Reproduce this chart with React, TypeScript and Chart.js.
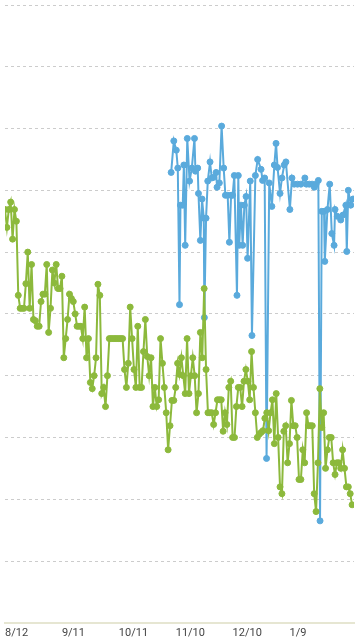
import React, { useEffect, useRef } from "react";
import { Chart, registerables } from "chart.js";

Chart.register(...registerables);

// Day 0 = 8/12; one value per day for the green series
const greenValues = [
  66.9, 64.0, 66.9, 68.1, 62.1, 66.9, 65.0, 53.0, 50.9, 50.9,
  50.9, 54.9, 60.0, 50.9, 58.0, 49.1, 48.9, 48.0, 48.0, 52.0,
  53.2, 53.2, 58.0, 47.0, 50.9, 57.1, 55.0, 58.0, 54.1, 54.1,
  56.1, 42.9, 46.0, 49.1, 53.2, 52.5, 52.0, 50.0, 48.0, 48.0,
  48.0, 46.0, 51.1, 42.9, 46.0, 38.9, 37.9, 40.0, 42.9, 54.8,
  53.0, 37.1, 38.1, 35.0, 40.0, 46.0, 46.0, 46.0, 46.0, 46.0,
  46.0, 46.0, 46.0, 41.0, 38.1, 42.0, 51.1, 46.0, 41.0, 38.1,
  48.0, 38.1, 38.1, 43.9, 49.1, 43.1, 40.0, 42.9, 35.0, 38.1,
  35.0, 36.1, 46.0, 42.0, 38.1, 34.0, 28.0, 31.9, 36.0, 36.0,
  38.1, 42.0, 40.2, 42.9, 40.0, 37.1, 46.0, 37.1, 40.0, 42.9,
  40.0, 34.0, 37.1, 47.0, 42.9, 54.1, 41.0, 34.0, 34.0, 34.0,
  32.1, 34.0, 36.1, 36.1, 36.1, 31.0, 34.0, 32.1, 38.1, 39.1,
  30.0, 30.0, 35.0, 38.1, 38.1, 35.0, 39.1, 41.0, 39.1, 36.1,
  43.9, 38.1, 34.0, 30.0, 30.5, 30.8, 31.1, 33.1, 34.0, 31.1,
  34.0, 36.1, 29.0, 37.1, 30.0, 22.0, 20.9, 31.0, 31.9, 25.9,
  29.0, 36.0, 31.9, 31.9, 30.0, 23.2, 23.2, 28.0, 25.9, 34.0,
  31.9, 31.9, 31.9, 20.9, 18.0, 25.9, 37.9, 31.6, 34.0, 25.0,
  28.0, 30.0, 30.0, 25.9, 24.0, 25.9, 25.9, 25.0, 28.0, 25.0,
  22.0, 22.0, 20.9, 19.1,
];

// Blue series: day offsets (from 8/12) and values
const blueDays = [
  87.6, 89.0, 90.3, 91.1, 92.0, 92.5, 93.7, 94.3, 95.0, 96.1,
  97.3, 98.5, 99.9, 100.4, 101.6, 102.0, 103.0, 103.9, 104.8, 105.1,
  106.0, 106.9, 108.1, 109.0, 110.0, 111.3, 111.8, 113.0, 114.2, 115.3,
  116.2, 117.4, 118.3, 119.2, 120.0, 120.9, 122.3, 123.0, 123.5, 124.4,
  125.3, 126.2, 127.1, 127.9, 129.3, 130.2, 132.0, 133.2, 135.0, 135.8,
  136.9, 137.9, 139.3, 140.7, 142.0, 142.9, 143.7, 145.0, 146.0, 147.2,
  148.1, 150.2, 151.3, 152.5, 154.2, 156.0, 158.1, 158.9, 160.4, 161.9,
  163.1, 164.0, 165.2, 166.1, 167.0, 168.2, 168.6, 170.0, 171.2, 172.3,
  173.5, 174.0, 175.2, 177.0, 178.2, 179.7, 180.2, 181.0, 182.3, 183.5,
];
const blueValues = [
  72.9, 78.0, 76.5, 73.6, 51.5, 67.6, 67.6, 74.1, 61.1, 78.4,
  71.5, 73.6, 78.4, 73.1, 73.6, 69.5, 61.9, 68.6, 65.5, 49.4,
  65.5, 71.5, 74.6, 72.0, 72.1, 72.9, 70.5, 71.2, 80.4, 73.6,
  69.2, 69.2, 61.6, 69.2, 69.2, 72.4, 53.0, 72.4, 61.1, 67.6,
  61.1, 67.6, 69.0, 59.0, 71.5, 46.5, 72.4, 75.0, 73.4, 71.6,
  72.0, 26.6, 71.2, 67.4, 74.1, 77.6, 73.7, 69.5, 72.0, 74.1,
  74.6, 66.9, 72.0, 71.0, 71.0, 71.0, 72.0, 71.0, 71.0, 71.0,
  70.5, 71.0, 71.6, 16.5, 66.6, 66.6, 58.5, 66.9, 71.0, 63.0,
  61.1, 66.9, 65.8, 65.2, 66.0, 67.6, 60.1, 70.0, 67.6, 68.6,
];

const tickDays = [0, 30, 60, 90, 120, 150];
const tickLabels = ["8/12", "9/11", "10/11", "11/10", "12/10", "1/9"];

const GREEN = "#8cb93c";
const BLUE = "#5aaadc";

export default function App() {
  const ref = useRef<HTMLCanvasElement | null>(null);

  useEffect(() => {
    document.body.style.margin = "0";
    if (!ref.current) return;
    const greenData = greenValues.map((v, i) => ({ x: i, y: v }));
    const blueData = blueDays.map((d, i) => ({ x: d, y: blueValues[i] }));
    const chart = new Chart(ref.current, {
      type: "line",
      data: {
        datasets: [
          {
            data: greenData,
            borderColor: GREEN,
            backgroundColor: GREEN,
            pointBackgroundColor: GREEN,
            pointBorderColor: GREEN,
            borderWidth: 2,
            pointRadius: 3,
            pointBorderWidth: 1,
            tension: 0,
            fill: false,
          },
          {
            data: blueData,
            borderColor: BLUE,
            backgroundColor: BLUE,
            pointBackgroundColor: BLUE,
            pointBorderColor: BLUE,
            borderWidth: 2,
            pointRadius: 3,
            pointBorderWidth: 1,
            tension: 0,
            fill: false,
          },
        ],
      },
      options: {
        animation: false,
        responsive: false,
        layout: { padding: { left: 5, right: 4, top: 5, bottom: -4 } },
        plugins: { legend: { display: false }, tooltip: { enabled: false } },
        scales: {
          x: {
            type: "linear",
            min: 0,
            max: 184,
            afterBuildTicks: (scale: any) => {
              scale.ticks = tickDays.map((v) => ({ value: v }));
            },
            ticks: {
              align: "start",
              maxRotation: 0,
              autoSkip: false,
              padding: 4,
              color: "#444",
              font: { family: "Roboto", size: 11 },
              callback: (value: any) => {
                const i = tickDays.indexOf(Number(value));
                return i >= 0 ? tickLabels[i] : "";
              },
            },
            grid: { display: false, drawTicks: false },
            border: { display: true, color: "#e6e6d2", width: 2 },
          },
          y: {
            min: 0,
            max: 100,
            ticks: { display: false, stepSize: 10 },
            grid: { color: "#cccccc", drawTicks: false, lineWidth: 1 },
            border: { display: false, dash: [3, 3] },
          },
        },
      },
    });
    return () => chart.destroy();
  }, []);

  return (
    <div style={{ width: 359, height: 640 }}>
      <canvas ref={ref} width={359} height={640} style={{ display: "block" }} />
    </div>
  );
}
